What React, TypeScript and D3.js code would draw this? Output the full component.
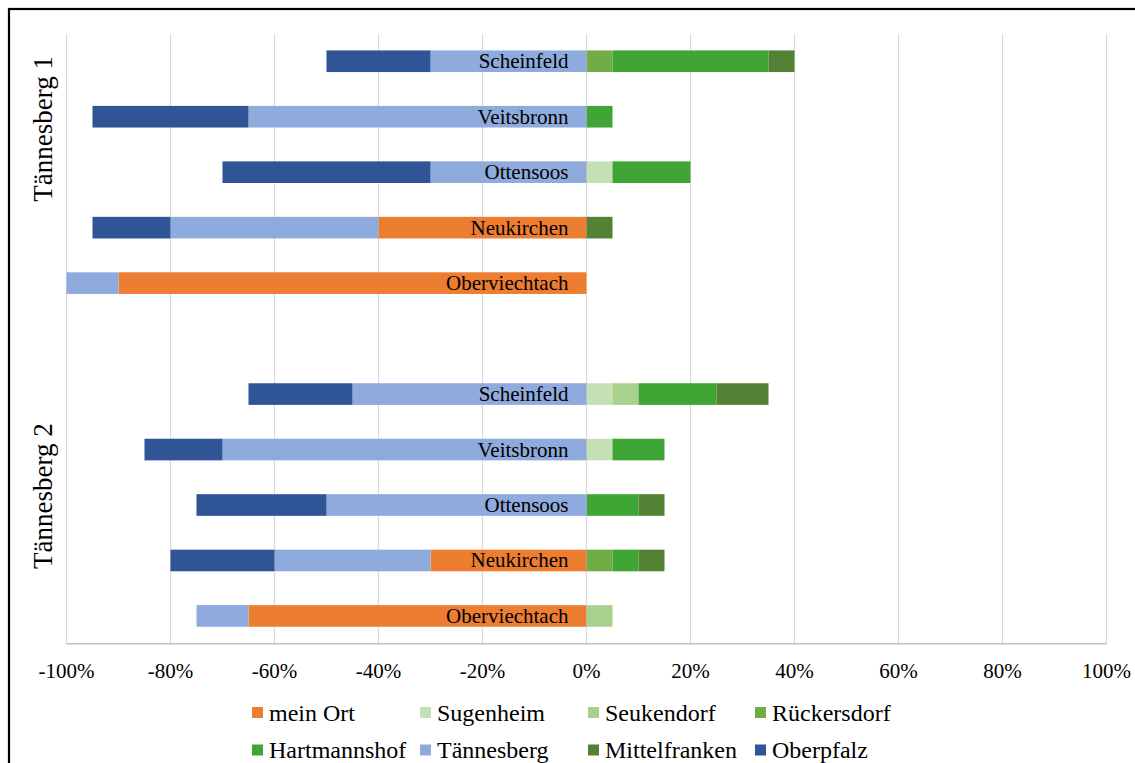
import React from "react";
import * as d3 from "d3";

// Rows: two survey waves, five places each
const groups = ["Tännesberg 1", "Tännesberg 2"];
const places = ["Scheinfeld", "Veitsbronn", "Ottensoos", "Neukirchen", "Oberviechtach"];

// Series in legend order
const seriesNames = [
  "mein Ort",
  "Sugenheim",
  "Seukendorf",
  "Rückersdorf",
  "Hartmannshof",
  "Tännesberg",
  "Mittelfranken",
  "Oberpfalz",
];
const seriesColors = [
  "#ED7D31",
  "#C5E0B4",
  "#A9D18E",
  "#70AD47",
  "#3FA535",
  "#8FAADC",
  "#548235",
  "#2F5597",
];

// Shares in percent, one value per row (Tännesberg 1 rows, then Tännesberg 2 rows)
const meinOrt = [0, 0, 0, -40, -90, 0, 0, 0, -30, -65];
const sugenheim = [0, 0, 5, 0, 0, 5, 5, 0, 0, 0];
const seukendorf = [0, 0, 0, 0, 0, 5, 0, 0, 0, 5];
const rueckersdorf = [5, 0, 0, 0, 0, 0, 0, 0, 5, 0];
const hartmannshof = [30, 5, 15, 0, 0, 15, 10, 10, 5, 0];
const taennesberg = [-30, -65, -30, -40, -10, -45, -70, -50, -30, -10];
const mittelfranken = [5, 0, 0, 5, 0, 10, 0, 5, 5, 0];
const oberpfalz = [-20, -30, -40, -15, 0, -20, -15, -25, -20, 0];

const xTicks = [-100, -80, -60, -40, -20, 0, 20, 40, 60, 80, 100];

const W = 1135;
const H = 763;
const FONT = "'Liberation Serif', 'Times New Roman', serif";

export default function App() {
  const seriesValues = [
    meinOrt,
    sugenheim,
    seukendorf,
    rueckersdorf,
    hartmannshof,
    taennesberg,
    mittelfranken,
    oberpfalz,
  ];

  type Row = { key: string; group: string; place: string; [k: string]: any };
  const rows: Row[] = [];
  groups.forEach((g, gi) =>
    places.forEach((p, pi) => {
      const idx = gi * places.length + pi;
      const r: Row = { key: `${g}|${p}`, group: g, place: p };
      seriesNames.forEach((s, si) => (r[s] = seriesValues[si][idx]));
      rows.push(r);
    })
  );

  // band domain with an empty slot between the two groups
  const bandKeys = [
    ...rows.slice(0, places.length).map((r) => r.key),
    "gap",
    ...rows.slice(places.length).map((r) => r.key),
  ];

  const x = d3.scaleLinear().domain([-100, 100]).range([66.5, 1106.5]);
  const y = d3
    .scaleBand<string>()
    .domain(bandKeys)
    .range([33.5, 643.7])
    .paddingInner(0.61)
    .paddingOuter(0.305);

  const stack = d3
    .stack<Row>()
    .keys(seriesNames)
    .offset(d3.stackOffsetDiverging);
  const stacked = stack(rows);

  const plotTop = y.range()[0];
  const plotBottom = y.range()[1];
  const step = y.step();
  const centerAt = (i: number) => plotTop + step * (i + 0.5);
  const groupLabelPos = [1.22, 7.84];

  const legendCols = [252, 420, 588, 755];
  const legendRows = [712.5, 750];

  const fmt = (t: number) => d3.format("d")(t).replace("\u2212", "-") + "%";

  return (
    <svg
      width={W}
      height={H}
      style={{ position: "absolute", left: 0, top: 0, background: "#fff" }}
    >
      <rect x={0} y={0} width={W} height={H} fill="#fff" />
      {/* chart frame */}
      <rect x={9} y={9} width={W + 20} height={H + 20} fill="none" stroke="#000" strokeWidth={2.2} />

      {/* vertical gridlines */}
      {xTicks.map((t) => (
        <line
          key={t}
          x1={x(t)}
          x2={x(t)}
          y1={plotTop}
          y2={plotBottom}
          stroke="#D9D9D9"
          strokeWidth={1.2}
        />
      ))}
      <line
        x1={x(-100)}
        x2={x(100)}
        y1={plotBottom}
        y2={plotBottom}
        stroke="#BFBFBF"
        strokeWidth={1.5}
      />

      {/* stacked bars */}
      {stacked.map((layer, si) => (
        <g key={layer.key} fill={seriesColors[si]}>
          {layer.map((d, i) => {
            const w = Math.abs(x(d[1]) - x(d[0]));
            if (w < 0.01) return null;
            return (
              <rect
                key={i}
                x={Math.min(x(d[0]), x(d[1]))}
                y={y(rows[i].key)}
                width={w}
                height={y.bandwidth()}
              />
            );
          })}
        </g>
      ))}

      {/* place names inside the bars */}
      {rows.map((r) => (
        <text
          key={r.key}
          x={x(0) - 18}
          y={(y(r.key) as number) + y.bandwidth() / 2}
          textAnchor="end"
          dominantBaseline="central"
          fontSize={21}
          fontFamily={FONT}
          fill="#000"
        >
          {r.place}
        </text>
      ))}

      {/* group labels */}
      {groups.map((g, gi) => (
        <text
          key={g}
          transform={`translate(42.5, ${centerAt(groupLabelPos[gi])}) rotate(-90)`}
          textAnchor="middle"
          dominantBaseline="central"
          fontSize={27}
          fontFamily={FONT}
          fill="#000"
        >
          {g}
        </text>
      ))}

      {/* x tick labels */}
      {xTicks.map((t) => (
        <text
          key={t}
          x={x(t)}
          y={671}
          textAnchor="middle"
          dominantBaseline="central"
          fontSize={21}
          fontFamily={FONT}
          fill="#000"
        >
          {fmt(t)}
        </text>
      ))}

      {/* legend */}
      {seriesNames.map((s, i) => {
        const cx = legendCols[i % 4];
        const cy = legendRows[Math.floor(i / 4)];
        return (
          <g key={s}>
            <rect x={cx} y={cy - 5.5} width={11} height={11} fill={seriesColors[i]} />
            <text
              x={cx + 17}
              y={cy}
              dominantBaseline="central"
              fontSize={24}
              fontFamily={FONT}
              fill="#000"
            >
              {s}
            </text>
          </g>
        );
      })}
    </svg>
  );
}
